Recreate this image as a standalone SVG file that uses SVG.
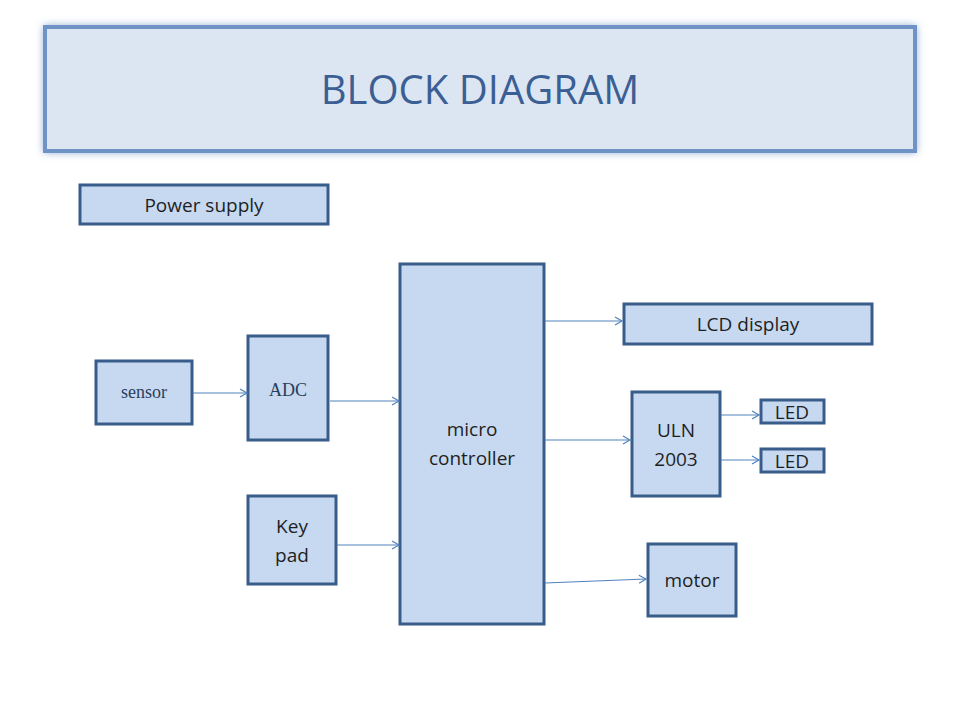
<svg xmlns="http://www.w3.org/2000/svg" width="960" height="720" viewBox="0 0 960 720">
<defs>
<style>
.n{fill:#c6d9f1;stroke:#385d8a;stroke-width:3}
.t{font-family:"Open Sans","Liberation Sans",sans-serif;font-size:19px;fill:#1f1f1f;text-anchor:middle}
.s{font-family:"Liberation Serif",serif;font-size:18px;fill:#2a3d5a;text-anchor:middle}
.c{stroke:#4f81bd;stroke-width:1.2;fill:none;marker-end:url(#a)}
</style>
<marker id="a" markerWidth="10" markerHeight="10" refX="8" refY="5" orient="auto" markerUnits="userSpaceOnUse"><path d="M1,1 L8,5 L1,9" fill="none" stroke="#4f81bd" stroke-width="1.2"/></marker>
<filter id="g" x="-5%" y="-20%" width="110%" height="140%"><feGaussianBlur stdDeviation="4"/></filter>
</defs>
<rect width="960" height="720" fill="#fff"/>
<g id="title">
<rect x="44" y="26" width="872" height="126" fill="#7f9fcf" filter="url(#g)"/>
<rect x="45" y="27" width="870" height="124" fill="#dce6f2" stroke="#6f93c6" stroke-width="4"/>
<text x="480" y="104" font-family="Open Sans,Liberation Sans,sans-serif" font-size="40" fill="#3b5f94" text-anchor="middle">BLOCK DIAGRAM</text>
</g>
<g id="power"><rect class="n" x="80" y="185" width="248" height="39"/><text class="t" x="204" y="212">Power supply</text></g>
<g id="sensor"><rect class="n" x="96" y="361" width="96" height="63"/><text class="s" x="144" y="398">sensor</text></g>
<g id="adc"><rect class="n" x="248" y="336" width="80" height="104"/><text class="s" x="288" y="396">ADC</text></g>
<g id="keypad"><rect class="n" x="248" y="496" width="88" height="88"/><text class="t" x="292" y="533">Key</text><text class="t" x="292" y="562">pad</text></g>
<g id="micro"><rect class="n" x="400" y="264" width="144" height="360"/><text class="t" x="472" y="436">micro</text><text class="t" x="472" y="465">controller</text></g>
<g id="lcd"><rect class="n" x="624" y="304" width="248" height="40"/><text class="t" x="748" y="331">LCD display</text></g>
<g id="uln"><rect class="n" x="632" y="392" width="88" height="104"/><text class="t" x="676" y="437">ULN</text><text class="t" x="676" y="466">2003</text></g>
<g id="led1"><rect class="n" x="761" y="400" width="63" height="23"/><text class="t" x="792" y="419">LED</text></g>
<g id="led2"><rect class="n" x="761" y="449" width="63" height="23"/><text class="t" x="792" y="468">LED</text></g>
<g id="motor"><rect class="n" x="648" y="544" width="88" height="72"/><text class="t" x="692" y="587">motor</text></g>
<g id="connectors">
<line class="c" x1="193" y1="393" x2="247" y2="393"/>
<line class="c" x1="330" y1="401" x2="399" y2="401"/>
<line class="c" x1="337" y1="545" x2="399" y2="545"/>
<line class="c" x1="545" y1="321" x2="622" y2="321"/>
<line class="c" x1="545" y1="440" x2="630" y2="440"/>
<line class="c" x1="545" y1="583" x2="646" y2="579"/>
<line class="c" x1="721" y1="415" x2="759" y2="415"/>
<line class="c" x1="721" y1="460" x2="759" y2="460"/>
</g>
</svg>
